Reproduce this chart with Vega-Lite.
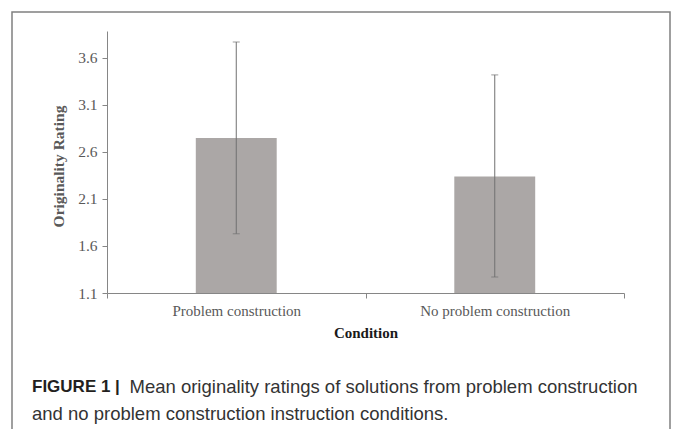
{
  "$schema": "https://vega.github.io/schema/vega-lite/v6.json",
  "width": 658,
  "height": 427,
  "padding": {"left": 12, "top": 12, "right": 3, "bottom": -10},
  "background": "#ffffff",
  "config": {
    "view": {"stroke": "#808080", "strokeWidth": 1.5},
    "axis": {"grid": false}
  },
  "data": {
    "values": [
      {"condition": "Problem construction", "mean": 2.75, "lower": 1.73, "upper": 3.77},
      {"condition": "No problem construction", "mean": 2.34, "lower": 1.27, "upper": 3.42}
    ]
  },
  "title": {
    "text": "FIGURE 1 |",
    "subtitle": "and no problem construction instruction conditions.",
    "orient": "bottom",
    "anchor": "start",
    "frame": "group",
    "offset": -47,
    "dx": 20,
    "baseline": "alphabetic",
    "font": "Liberation Sans",
    "fontSize": 17,
    "fontWeight": "bold",
    "color": "#231f20",
    "subtitleFont": "Liberation Sans",
    "subtitleFontSize": 18.5,
    "subtitleFontWeight": "normal",
    "subtitleColor": "#333333",
    "subtitlePadding": 11
  },
  "resolve": {"axis": {"y": "independent"}},
  "encoding": {
    "x": {
      "field": "condition",
      "type": "nominal",
      "sort": null,
      "scale": {"range": [95, 612], "paddingInner": 0, "paddingOuter": 0},
      "axis": {
        "orient": "bottom",
        "offset": -146,
        "title": "Condition",
        "titleFont": "Liberation Serif",
        "titleFontSize": 15,
        "titleFontWeight": "bold",
        "titleColor": "#1a1a1a",
        "titleBaseline": "middle",
        "titleY": 39,
        "labelFont": "Liberation Serif",
        "labelFontSize": 15,
        "labelColor": "#595959",
        "labelAngle": 0,
        "labelPadding": 5,
        "tickBand": "extent",
        "tickSize": 5,
        "tickColor": "#868686",
        "domainColor": "#868686"
      }
    }
  },
  "layer": [
    {
      "mark": {"type": "bar", "color": "#aba7a6", "width": {"band": 0.313}},
      "encoding": {
        "y": {
          "field": "mean",
          "type": "quantitative",
          "scale": {"domain": [1.1, 3.887], "range": [281, 19], "nice": false, "zero": false},
          "axis": {
            "orient": "left",
            "offset": -95,
            "values": [1.1, 1.6, 2.1, 2.6, 3.1, 3.6],
            "format": ".1f",
            "title": "Originality Rating",
            "titleFont": "Liberation Serif",
            "titleFontSize": 15.5,
            "titleFontWeight": "bold",
            "titleColor": "#595959",
            "titleBaseline": "middle",
            "titleX": -49,
            "titleY": 154,
            "labelFont": "Liberation Serif",
            "labelFontSize": 15.5,
            "labelColor": "#595959",
            "labelPadding": 5,
            "tickSize": 5,
            "tickColor": "#868686",
            "domainColor": "#868686"
          }
        },
        "y2": {"datum": 1.1}
      }
    },
    {
      "mark": {"type": "rule", "color": "#707070", "strokeWidth": 1},
      "encoding": {
        "y": {
          "field": "lower",
          "type": "quantitative",
          "axis": {
            "orient": "right",
            "domain": false,
            "ticks": false,
            "labels": false,
            "title": "Mean originality ratings of solutions from problem construction",
            "titleAngle": 0,
            "titleX": -541,
            "titleY": 380,
            "titleAlign": "left",
            "titleBaseline": "alphabetic",
            "titleFont": "Liberation Sans",
            "titleFontSize": 18.5,
            "titleFontWeight": "normal",
            "titleColor": "#333333"
          }
        },
        "y2": {"field": "upper"}
      }
    },
    {
      "mark": {"type": "tick", "color": "#707070", "size": 7, "thickness": 1, "orient": "horizontal"},
      "encoding": {
        "y": {"field": "lower", "type": "quantitative", "axis": null}
      }
    },
    {
      "mark": {"type": "tick", "color": "#707070", "size": 7, "thickness": 1, "orient": "horizontal"},
      "encoding": {
        "y": {"field": "upper", "type": "quantitative", "axis": null}
      }
    }
  ]
}
